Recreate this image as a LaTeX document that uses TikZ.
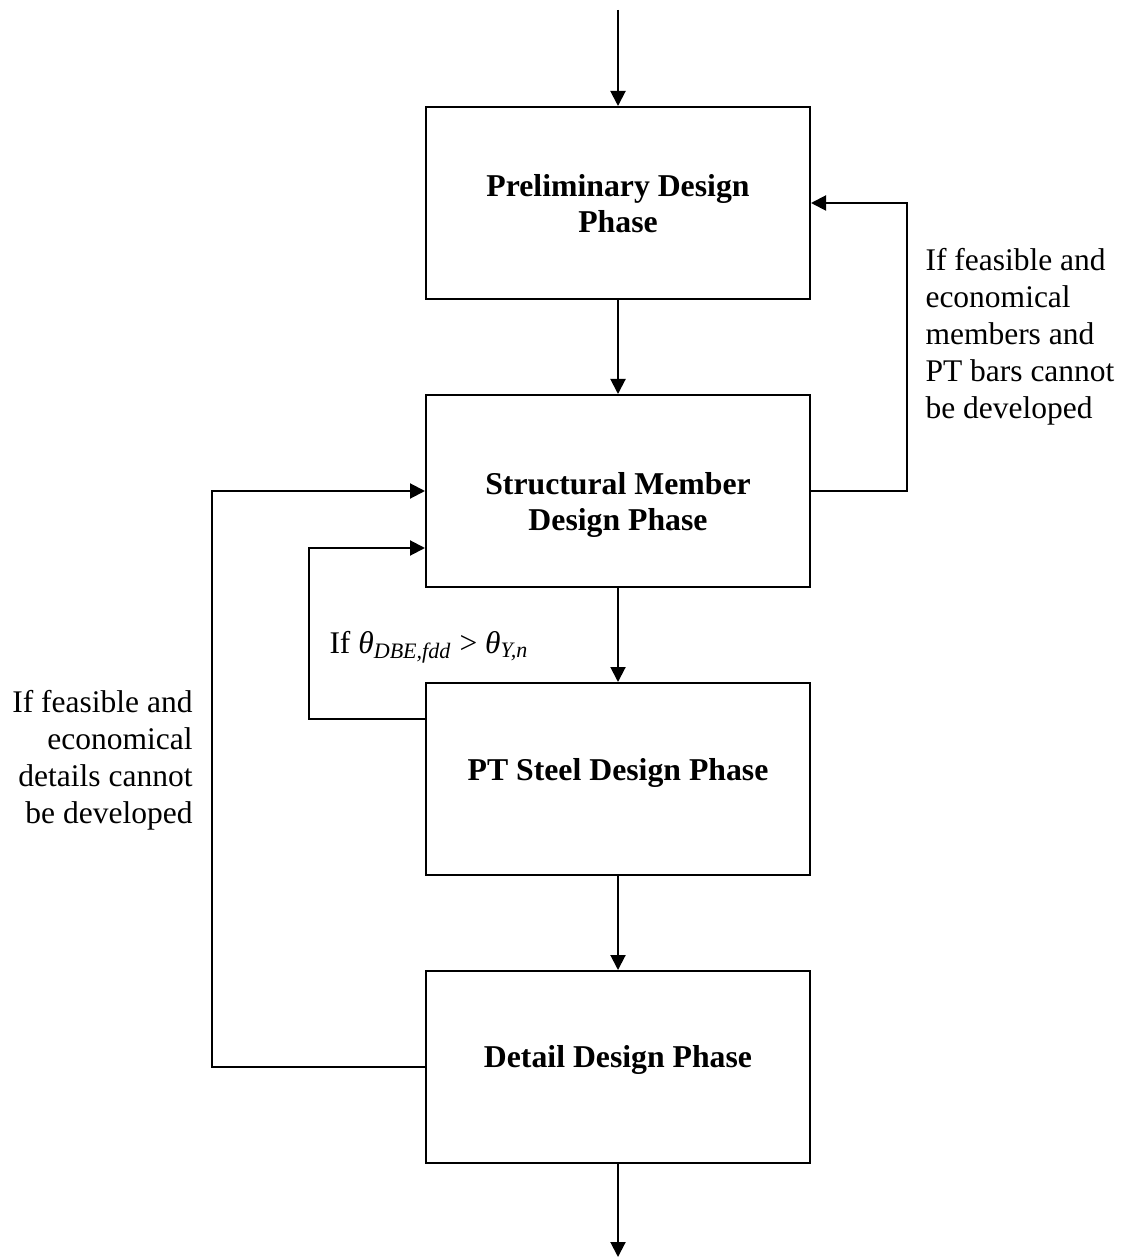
\documentclass[tikz,border=0pt]{standalone}
\usepackage{fontspec}
\setmainfont{Liberation Serif}
\usetikzlibrary{arrows.meta, positioning, calc}

\begin{document}
\begin{tikzpicture}[x=0.4pt, y=-0.4pt,
    phase/.style={draw, line width=0.8pt, minimum width=153.6pt, minimum height=76.8pt,
        align=center, inner sep=0pt, font=\fontsize{12.7}{14.4}\selectfont\bfseries},
    flow/.style={line width=0.8pt, -{Triangle[length=6pt, width=6pt]}},
    note/.style={inner sep=0pt, font=\fontsize{12.6}{14.8}\selectfont}]
    \useasboundingbox (0,0) rectangle (1125,1257);

    % design phases, top to bottom
    \node[phase, text height=26.6pt, text depth=2.6pt] (prelim) at (618,203) {Preliminary Design\\Phase};
    \node[phase, text height=33.8pt, text depth=2.6pt] (struct) at (618,491) {Structural Member\\Design Phase};
    \node[phase, text height=8.5pt, text depth=7.7pt] (ptsteel) at (618,779) {PT Steel Design Phase};
    \node[phase, text height=8.5pt, text depth=8.5pt] (detail) at (618,1067) {Detail Design Phase};

    \coordinate (start) at (618,10);
    \coordinate (finish) at (618,1257);

    \draw[flow] (start) -- (prelim);
    \draw[flow] (prelim) -- (struct);
    \draw[flow] (struct) -- (ptsteel);
    \draw[flow] (ptsteel) -- (detail);
    \draw[flow] (detail) -- (finish);

    % feedback loops
    \draw[flow] (struct.east) -- ++(96,0) |- (prelim.east);
    \draw[flow] (detail.west) -- ++(-213,0) |- (struct.west);
    \draw[flow] ($(ptsteel.north west)+(0,37)$) -- ++(-116,0) |- ($(struct.west)+(0,57)$);

    \node[note, align=left, anchor=base west] (membernote) at (925,419)
        {If feasible and\\economical\\members and\\PT bars cannot\\be developed};
    \node[note, align=right, anchor=base east] (detailnote) at (193,823)
        {If feasible and\\economical\\details cannot\\be developed};
    \node[note, anchor=base west] (rotnote) at (329,653)
        {If \textit{θ}\textsubscript{\textit{DBE,fdd}} > \textit{θ}\textsubscript{\textit{Y,n}}};
\end{tikzpicture}
\end{document}
